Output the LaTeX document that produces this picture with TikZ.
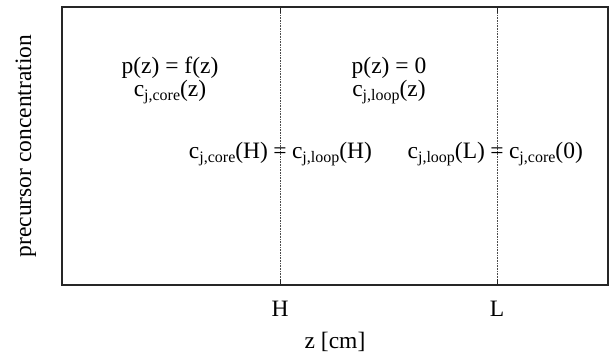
\documentclass[tikz,border=0pt]{standalone}
\usepackage{fontspec}
\setmainfont{Liberation Serif}
\usepackage{tikz}
\usetikzlibrary{positioning}

\newcommand{\lowsub}[1]{\raisebox{-0.45ex}{\fontsize{16}{19}\selectfont #1}}

\tikzset{
    frame/.style={line width=1.4pt, black!85},
    guide/.style={densely dotted, line width=0.6pt, black!70},
    tickmark/.style={line width=1pt, black!85},
    lbl/.style={font=\fontsize{23.5}{28}\selectfont, inner sep=0pt},
}

\begin{document}
\begin{tikzpicture}[x=1pt, y=-1pt]
    \useasboundingbox (0,0) rectangle (612,362);

    % ── Frame ────────────────────────────────────────────────────────
    \coordinate (nw) at (62,7);
    \coordinate (se) at (608,285);
    \draw[frame] (nw) rectangle (se);

    % ── H and L: guides, ticks, labels ───────────────────────────────
    \foreach \name/\xpos in {H/280, L/497}{
        \coordinate (\name top) at (\xpos,7);
        \coordinate (\name bot) at (\xpos,285);
        \draw[guide] (\name top) -- (\name bot);
        \draw[tickmark] (\name bot) -- ++(0,-6);
        \draw[tickmark] (\name top) -- ++(0,6);
        \node[lbl, anchor=base] (\name lbl) at (\xpos,316) {\name};
    }

    % Axis titles
    \node[lbl, anchor=base] (xtitle) at (335,348) {z [cm]};
    \node[lbl, anchor=base, rotate=90] (ytitle) at (31,146) {precursor concentration};

    % ── Core region ──────────────────────────────────────────────────
    \node[lbl, anchor=base] (pcore) at (170,73) {p(z) = f(z)};
    \node[lbl, anchor=base] (ccore) at (170,96) {c\lowsub{j,core}(z)};

    % ── Loop region ──────────────────────────────────────────────────
    \node[lbl, anchor=base] (ploop) at (389,73) {p(z) = 0};
    \node[lbl, anchor=base] (cloop) at (389,96) {c\lowsub{j,loop}(z)};

    % ── Boundary conditions ──────────────────────────────────────────
    \node[lbl, anchor=base] (eqH) at (280,158) {=};
    \node[lbl, anchor=base east, xshift=-5pt] (leftH) at (eqH.base west) {c\lowsub{j,core}(H)};
    \node[lbl, anchor=base west, xshift=5pt] (rightH) at (eqH.base east) {c\lowsub{j,loop}(H)};

    \node[lbl, anchor=base] (eqL) at (497,158) {=};
    \node[lbl, anchor=base east, xshift=-5pt] (leftL) at (eqL.base west) {c\lowsub{j,loop}(L)};
    \node[lbl, anchor=base west, xshift=5pt] (rightL) at (eqL.base east) {c\lowsub{j,core}(0)};
\end{tikzpicture}
\end{document}
